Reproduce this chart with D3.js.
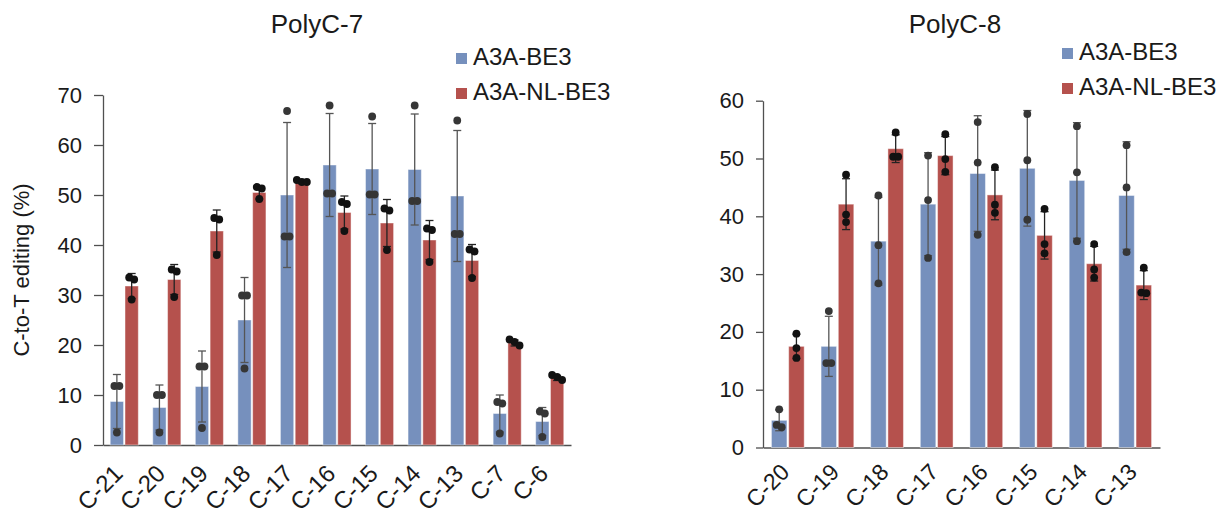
<!DOCTYPE html>
<html>
<head>
<meta charset="utf-8">
<script src="https://cdn.jsdelivr.net/npm/d3@7"></script>
<style>
  html, body { margin: 0; padding: 0; background: #fff; }
  svg { display: block; font-family: "Liberation Sans", Arial, Helvetica, sans-serif; }
</style>
</head>
<body>
<script>
// ---- PolyC-7 ----
const categories7 = ["C-21", "C-20", "C-19", "C-18", "C-17", "C-16", "C-15", "C-14", "C-13", "C-7", "C-6"];
const be3Mean7 = [8.7, 7.5, 11.7, 25.0, 50.0, 56.0, 55.2, 55.1, 49.8, 6.3, 4.7];
const be3Sd7 = [5.4, 4.5, 7.1, 8.5, 14.5, 10.3, 9.1, 11.1, 13.1, 3.7, 2.8];
const be3Reps7 = [[11.8, 11.8, 2.5], [10.0, 10.0, 2.5], [15.7, 15.7, 3.4], [29.9, 29.9, 15.3], [66.8, 41.7, 41.7],
  [67.9, 50.3, 50.3], [65.7, 50.1, 50.1], [67.9, 48.8, 48.8], [64.9, 42.2, 42.2], [8.6, 8.3, 2.3], [6.7, 6.3, 1.6]];
const nlMean7 = [31.8, 33.1, 42.8, 50.5, 52.6, 46.5, 44.4, 41.0, 36.9, 20.4, 13.4];
const nlSd7 = [2.5, 3.0, 4.2, 1.3, 0.3, 3.3, 4.7, 3.9, 3.2, 0.6, 0.5];
const nlReps7 = [[33.5, 33.1, 29.1], [35.1, 34.7, 29.6], [45.4, 45.1, 38.0], [51.6, 51.3, 49.2], [53.0, 52.6, 52.6],
  [48.6, 48.2, 42.8], [47.3, 46.9, 39.0], [43.3, 43.0, 36.6], [39.1, 38.7, 33.4], [21.1, 19.9, 20.6], [14.0, 13.0, 13.6]];
const yTicks7 = [0, 10, 20, 30, 40, 50, 60, 70];

// ---- PolyC-8 ----
const categories8 = ["C-20", "C-19", "C-18", "C-17", "C-16", "C-15", "C-14", "C-13"];
const be3Mean8 = [4.7, 17.5, 35.7, 42.1, 47.4, 48.3, 46.2, 43.6];
const be3Sd8 = [1.8, 5.2, 7.6, 8.9, 10.0, 10.0, 10.0, 9.3];
const be3Reps8 = [[6.6, 3.9, 3.5], [23.6, 14.6, 14.6], [43.6, 35.0, 28.4], [50.5, 42.8, 32.8],
  [56.3, 49.3, 36.8], [57.7, 49.7, 39.4], [55.6, 47.6, 35.7], [52.3, 45.0, 33.8]];
const nlMean8 = [17.5, 42.1, 51.7, 50.5, 43.7, 36.7, 31.8, 28.1];
const nlSd8 = [2.1, 4.4, 2.4, 3.3, 4.3, 4.1, 3.0, 2.5];
const nlReps8 = [[19.7, 17.2, 15.5], [47.2, 40.3, 39.0], [54.5, 50.3, 50.3], [54.2, 49.9, 47.7],
  [48.5, 42.0, 40.6], [41.3, 35.2, 33.6], [35.2, 30.8, 29.4], [31.1, 26.7, 26.8]];
const yTicks8 = [0, 10, 20, 30, 40, 50, 60];

const seriesNames = ["A3A-BE3", "A3A-NL-BE3"];
const yTitle = "C-to-T editing (%)";

const COLORS = ["#7690bd", "#b5514d"];
const ERR_COLORS = ["#555", "#222"];
const DOT_COLORS = ["#363636", "#121212"];

const W = 1227, H = 515;
const svg = d3.select("body").append("svg").attr("width", W).attr("height", H);

function drawPanel(p) {
  const g = svg.append("g");
  const x = d3.scaleBand().domain(p.cats).range([p.x0, p.x1]).paddingInner(0.34).paddingOuter(0.17);
  const xs = d3.scaleBand().domain([0, 1]).range([0, x.bandwidth()]).paddingInner(0.1);
  const y = d3.scaleLinear().domain([0, d3.max(p.ticks)]).range([p.y0, p.yTop]);

  // axes
  const yAxis = g.append("g").attr("transform", `translate(${p.x0},0)`)
    .call(d3.axisLeft(y).tickValues(p.ticks).tickSize(p.tickLen).tickSizeOuter(0).tickPadding(12));
  yAxis.selectAll("path, line").attr("stroke", "#505050").attr("stroke-width", 1.3);
  yAxis.selectAll("text").attr("font-size", 22).attr("fill", "#1a1a1a").attr("font-family", null);

  const xAxis = g.append("g").attr("transform", `translate(0,${p.y0})`)
    .call(d3.axisBottom(x).tickSize(0).tickSizeOuter(0));
  xAxis.select(".domain").attr("stroke", "#505050").attr("stroke-width", 1.3);
  xAxis.selectAll("text")
    .attr("font-size", p.labelSize).attr("fill", "#1a1a1a").attr("font-family", null)
    .attr("text-anchor", "end").attr("x", 0).attr("y", 0).attr("dy", 0)
    .attr("transform", `translate(${p.labelDx},${p.labelDy}) rotate(-45)`);

  // bars, error bars, replicate dots
  p.series.forEach((s, si) => {
    const sg = g.append("g");
    const cx = (i) => x(p.cats[i]) + xs(si) + xs.bandwidth() / 2;
    sg.selectAll("rect").data(s.mean).join("rect")
      .attr("x", (d, i) => x(p.cats[i]) + xs(si))
      .attr("width", xs.bandwidth())
      .attr("y", d => y(d))
      .attr("height", d => p.y0 - y(d))
      .attr("fill", COLORS[si])
      .attr("stroke", "rgba(255,255,255,0.45)").attr("stroke-width", 1);

    const eg = sg.append("g").attr("stroke", ERR_COLORS[si]).attr("stroke-width", 1.3);
    s.mean.forEach((m, i) => {
      const lo = y(m - s.sd[i]), hi = y(m + s.sd[i]), c = cx(i);
      eg.append("line").attr("x1", c).attr("x2", c).attr("y1", lo).attr("y2", hi);
      eg.append("line").attr("x1", c - 4).attr("x2", c + 4).attr("y1", hi).attr("y2", hi);
      eg.append("line").attr("x1", c - 4).attr("x2", c + 4).attr("y1", lo).attr("y2", lo);
    });

    const r = 3.9;
    s.reps.forEach((reps, i) => {
      const c = cx(i);
      // spread replicates that would overlap vertically
      const sorted = reps.map((v, k) => ({ v, k })).sort((a, b) => b.v - a.v);
      const clusters = [];
      sorted.forEach(o => {
        const last = clusters[clusters.length - 1];
        if (last && Math.abs(y(last[last.length - 1].v) - y(o.v)) < r * 1.6) last.push(o);
        else clusters.push([o]);
      });
      clusters.forEach(cl => {
        cl.forEach((o, j) => {
          const off = (j - (cl.length - 1) / 2) * 5;
          sg.append("circle").attr("cx", c + off).attr("cy", y(o.v)).attr("r", r).attr("fill", DOT_COLORS[si]);
        });
      });
    });
  });

  // title
  g.append("text").attr("x", p.titleX).attr("y", 33).attr("text-anchor", "middle")
    .attr("font-size", 26).attr("fill", "#1a1a1a").text(p.title);

  // legend
  seriesNames.forEach((name, si) => {
    const ly = p.legendY[si];
    g.append("rect").attr("x", p.legendX).attr("y", ly - 12).attr("width", 11).attr("height", 11).attr("fill", COLORS[si]);
    g.append("text").attr("x", p.legendX + 17).attr("y", ly).attr("font-size", 24).attr("fill", "#1a1a1a").text(name);
  });
}

drawPanel({
  cats: categories7, ticks: yTicks7, title: "PolyC-7",
  x0: 103, x1: 571, y0: 445, yTop: 95, tickLen: 9,
  titleX: 317, legendX: 456, legendY: [65, 100],
  labelSize: 24, labelDx: 0, labelDy: 30,
  series: [
    { mean: be3Mean7, sd: be3Sd7, reps: be3Reps7 },
    { mean: nlMean7, sd: nlSd7, reps: nlReps7 }
  ]
});

drawPanel({
  cats: categories8, ticks: yTicks8, title: "PolyC-8",
  x0: 763, x1: 1160, y0: 447.5, yTop: 100.7, tickLen: 7,
  titleX: 955, legendX: 1062, legendY: [60, 95],
  labelSize: 23, labelDx: 3, labelDy: 26,
  series: [
    { mean: be3Mean8, sd: be3Sd8, reps: be3Reps8 },
    { mean: nlMean8, sd: nlSd8, reps: nlReps8 }
  ]
});

// y-axis title for the left panel
svg.append("text")
  .attr("transform", "translate(29,270) rotate(-90)")
  .attr("text-anchor", "middle").attr("font-size", 22).attr("fill", "#1a1a1a")
  .text(yTitle);
</script>
</body>
</html>
